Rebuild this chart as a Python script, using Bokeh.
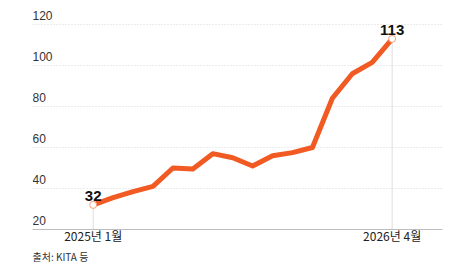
from bokeh.plotting import figure
from bokeh.models import FixedTicker, Range1d, Title
from bokeh.core.properties import value
from bokeh.embed import file_html
from bokeh.resources import INLINE

# data
months = list(range(16))  # 2025-01 .. 2026-04
values = [32, 35.5, 38.5, 41, 50, 49.5, 57, 55, 51, 56, 57.5, 60, 84, 96, 101.5, 113]
y_ticks = [20, 40, 60, 80, 100, 120]
x_tick_pos = [0, 15]
x_tick_labels = ["2025년 1월", "2026년 4월"]
source_text = "출처: KITA 등"

ORANGE = "#F15A22"
left, right = 32, 31
frame_w = 410
frame_h = 229
px_per_month = 19.93
first_px = 92.7 - left
x0 = -first_px / px_per_month
x1 = x0 + frame_w / px_per_month
px_per_unit = 2.05
y0 = 20
y1 = y0 + frame_h / px_per_unit

p = figure(frame_width=frame_w, frame_height=frame_h, output_backend="svg", toolbar_location=None,
           x_range=Range1d(x0, x1), y_range=Range1d(y0, y1),
           min_border_left=left, min_border_right=right,
           min_border_top=0, min_border_bottom=0)
p.outline_line_color = None
p.background_fill_color = "white"
p.border_fill_color = "white"

p.yaxis.visible = False
p.xgrid.visible = False
p.ygrid.ticker = FixedTicker(ticks=y_ticks[1:])
p.ygrid.grid_line_color = "#d9d9d9"
p.ygrid.grid_line_dash = "1 2"
p.ygrid.grid_line_width = 1

xa = p.xaxis[0]
xa.ticker = FixedTicker(ticks=x_tick_pos)
xa.major_label_overrides = {pos: lab for pos, lab in zip(x_tick_pos, x_tick_labels)}
xa.major_tick_line_color = None
xa.minor_tick_line_color = None
xa.major_tick_out = 0
xa.major_tick_in = 0
xa.axis_line_color = "#bdbdbd"
xa.major_label_text_font = "Noto Sans CJK KR"
xa.major_label_text_font_size = "12px"
xa.major_label_text_color = "#222222"
xa.major_label_standoff = -3

# y tick labels above the grid lines
p.text(x=[x0] * len(y_ticks), y=y_ticks, text=[str(t) for t in y_ticks],
       text_font=value("Liberation Sans"), text_font_size="12px",
       text_color="#333333", text_baseline="bottom", text_align="left",
       y_offset=-5)

# vertical guides for first/last
ends = [0, len(values) - 1]
p.segment(x0=[months[i] for i in ends], y0=[values[i] for i in ends],
          x1=[months[i] for i in ends], y1=[y0, y0],
          line_color="#dddddd", line_width=1)

p.line(months, values, line_color=ORANGE, line_width=5, line_join="round", line_cap="round")
p.scatter([months[i] for i in ends], [values[i] for i in ends], size=7,
          fill_color="white", line_color="#F5A07A", line_width=1)

p.text(x=[months[i] for i in ends], y=[values[i] for i in ends],
       text=[f"{values[i]:g}" for i in ends],
       text_font=value("Liberation Sans"), text_font_size="15px", text_font_style="bold",
       text_color="#111111", text_align="center", text_baseline="bottom", y_offset=-4)

src = Title(text=source_text, align="left", text_font="Noto Sans CJK KR",
            text_font_size="10px", text_font_style="normal", text_color="#333333",
            standoff=0, offset=0)
p.add_layout(src, "below")

open("out.html", "w").write(file_html(p, INLINE))
